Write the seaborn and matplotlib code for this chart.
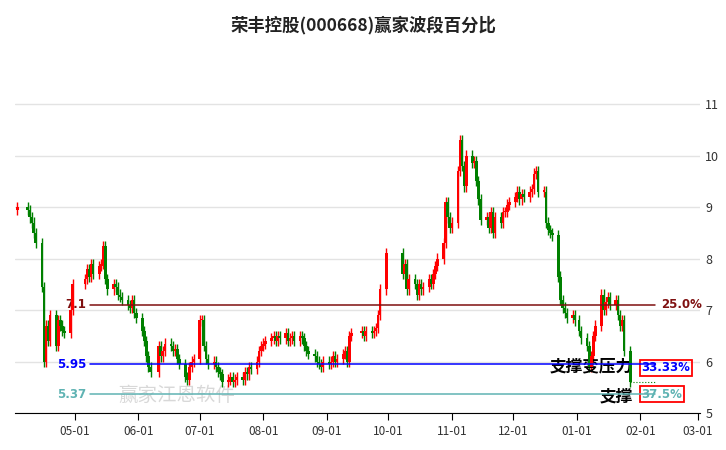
import numpy as np
import pandas as pd
import matplotlib
matplotlib.use("Agg")
import matplotlib.pyplot as plt
import matplotlib.dates as mdates
import seaborn as sns

holidays = ["2024-04-04", "2024-04-05", "2024-05-01", "2024-05-02", "2024-05-03",
            "2024-06-10", "2024-09-16", "2024-09-17", "2024-10-01", "2024-10-02",
            "2024-10-03", "2024-10-04", "2024-10-07", "2025-01-01"]
month_starts = ["2024-04-03", "2024-05-01", "2024-06-01", "2024-07-01", "2024-08-01",
                "2024-09-01", "2024-10-01", "2024-11-01", "2024-12-01", "2025-01-01"]

close_apr = [9.0, 8.95, 8.8, 8.7, 8.5, 8.3, 7.45, 6.0, 6.7, 6.4, 6.9, 6.3, 6.8, 6.7, 6.6, 6.55, 7.0, 7.5]
close_may = [7.6, 7.8, 7.65, 7.9, 7.7, 7.85, 7.9, 8.25, 7.6, 7.4, 7.5, 7.45, 7.3, 7.25, 7.2, 7.1, 7.05, 7.2, 6.95, 6.85]
close_jun = [6.6, 6.4, 6.1, 5.9, 5.8, 6.3, 6.1, 6.2, 6.35, 6.3, 6.2, 6.25, 6.05, 5.95, 5.7, 5.65, 5.9, 6.0, 6.05]
close_jul = [6.8, 6.8, 6.3, 6.05, 5.95, 6.0, 5.9, 5.8, 5.75, 5.6, 5.65, 5.7, 5.6, 5.65, 5.7, 5.65, 5.8, 5.75, 5.9, 5.85, 6.0, 6.2, 6.3]
close_aug = [6.35, 6.4, 6.45, 6.5, 6.4, 6.5, 6.45, 6.55, 6.4, 6.45, 6.5, 6.4, 6.5, 6.45, 6.3, 6.2, 6.15, 6.1, 6.0, 5.95, 5.9, 6.0]
close_sep = [5.95, 6.0, 6.1, 6.0, 6.05, 6.15, 6.2, 6.0, 6.5, 6.55, 6.6, 6.5, 6.6, 6.55, 6.6, 6.65, 6.9, 7.4, 8.1]
close_oct = [7.7, 7.9, 7.4, 7.6, 7.5, 7.3, 7.5, 7.4, 7.45, 7.6, 7.5, 7.7, 7.85, 8.0, 8.3, 9.1, 8.8, 8.6]
close_nov = [8.7, 9.7, 10.3, 9.8, 9.4, 10.0, 9.85, 9.9, 9.5, 9.15, 8.75, 8.8, 8.6, 8.9, 8.5, 8.8, 8.7, 8.9, 8.9, 9.05, 9.1]
close_dec = [9.2, 9.3, 9.15, 9.25, 9.2, 9.3, 9.35, 9.65, 9.7, 9.3, 9.3, 8.7, 8.55, 8.5, 8.45, 7.65, 7.2, 7.05, 6.95, 6.85, 6.9, 6.8]
close_jan = [6.6, 6.45, 6.3, 5.9, 6.1, 6.5, 6.7, 7.3, 7.0, 7.15, 7.25, 7.1, 7.2, 6.9, 6.7, 6.8, 6.2, 5.6]
first_open = 8.95

levels = [7.1, 5.95, 5.37]
level_labels = ["7.1", "5.95", "5.37"]
pct_labels = ["25.0%", "33.33%", "37.5%"]
level_colors = ["#7f1010", "#0000ff", "#5fb3b3"]
xtick_labels = ["05-01", "06-01", "07-01", "08-01", "09-01", "10-01", "11-01", "12-01", "01-01", "02-01", "03-01"]

months = [close_apr, close_may, close_jun, close_jul, close_aug, close_sep,
          close_oct, close_nov, close_dec, close_jan]
hol = pd.to_datetime(holidays)
dates, closes = [], []
for start, vals in zip(month_starts, months):
    s = pd.Timestamp(start)
    end = s + pd.offsets.MonthEnd(0)
    d = [x for x in pd.bdate_range(s, end) if x not in hol][:len(vals)]
    dates += d
    closes += vals
df = pd.DataFrame({"date": dates, "close": closes})
df["open"] = [first_open] + closes[:-1]
df["high"] = df[["open", "close"]].max(axis=1) + 0.1
df["low"] = df[["open", "close"]].min(axis=1) - 0.1

sns.set_style("white")
plt.rcParams["font.family"] = ["Noto Sans CJK SC", "DejaVu Sans"]
fig = plt.figure(figsize=(7.26, 4.5), dpi=100)
ax = fig.add_axes([0.021, 0.082, 0.943, 0.784])

up = df["close"] >= df["open"]
x = mdates.date2num(df["date"])
col = np.where(up, "#ff0000", "#008000")
ax.vlines(x, df["low"], df["high"], colors=col, linewidth=1.0, zorder=3)
ax.bar(x, (df["close"] - df["open"]).abs().clip(lower=0.03), bottom=df[["open", "close"]].min(axis=1),
       width=1.3, color=col, linewidth=0, zorder=4)

x0 = mdates.date2num(pd.Timestamp("2024-04-02"))
x1 = mdates.date2num(pd.Timestamp("2025-03-02"))
ax.set_xlim(x0, x1)
ax.set_ylim(5.0, 11.85)
for yv in range(5, 12):
    ax.axhline(yv, color="#e3e3e3", linewidth=1, zorder=0)

xmin, xmax = 0.109, 0.934
for lv, lab, pl, c in zip(levels, level_labels, pct_labels, level_colors):
    ax.axhline(lv, xmin=xmin, xmax=xmax, color=c, linewidth=1.1, zorder=5)
    ax.text(xmin - 0.005, lv, lab, transform=ax.get_yaxis_transform(), ha="right", va="center",
            color=c, fontsize=8.5, fontweight="bold", family=["DejaVu Sans"])
bbox_red = dict(boxstyle="square,pad=0.15", fc="none", ec="#ff0000", lw=1.3)
ax.text(0.943, levels[0], pct_labels[0], transform=ax.get_yaxis_transform(), ha="left", va="center",
        color=level_colors[0], fontsize=8.5, fontweight="bold", family=["DejaVu Sans"])
ax.text(0.915, levels[1] - 0.07, pct_labels[1], transform=ax.get_yaxis_transform(), ha="left", va="center",
        color=level_colors[1], fontsize=8.5, fontweight="bold", family=["DejaVu Sans"], bbox=bbox_red)
ax.text(0.915, levels[2], pct_labels[2], transform=ax.get_yaxis_transform(), ha="left", va="center",
        color=level_colors[2], fontsize=8.5, fontweight="bold", family=["DejaVu Sans"], bbox=bbox_red)
ax.text(0.902, levels[1] - 0.07, "支撑变压力", transform=ax.get_yaxis_transform(), ha="right", va="center",
        fontsize=12, fontweight="bold", color="black")
ax.text(0.902, levels[2] - 0.05, "支撑", transform=ax.get_yaxis_transform(), ha="right", va="center",
        fontsize=12, fontweight="bold", color="black")
ax.plot([x[-1], x[-1] + 12], [closes[-1], closes[-1]], color="#008000", lw=0.8, ls=":", zorder=5)

ax.text(0.15, 0.02, "赢家江恩软件", transform=ax.transAxes, fontsize=14, color="#cfcfcf",
        ha="left", va="bottom", alpha=0.8, zorder=1)

ticks = pd.date_range("2024-05-01", "2025-03-01", freq="MS")
ax.set_xticks(mdates.date2num(ticks))
ax.set_xticklabels(xtick_labels, fontsize=8.5, color="#333333")
ax.tick_params(axis="x", length=5, direction="out", color="black", bottom=True)
ax.yaxis.tick_right()
ax.set_yticks(range(5, 12))
ax.set_yticklabels([str(v) for v in range(5, 12)], fontsize=9, color="#333333")
ax.tick_params(axis="y", length=0, pad=4)
for s in ["top", "left", "right"]:
    ax.spines[s].set_visible(False)
ax.spines["bottom"].set_color("black")

fig.text(0.5, 0.945, "荣丰控股(000668)赢家波段百分比", ha="center", va="center",
         fontsize=12.5, fontweight="bold", color="#222222")
fig.savefig("out.png", dpi=100)
